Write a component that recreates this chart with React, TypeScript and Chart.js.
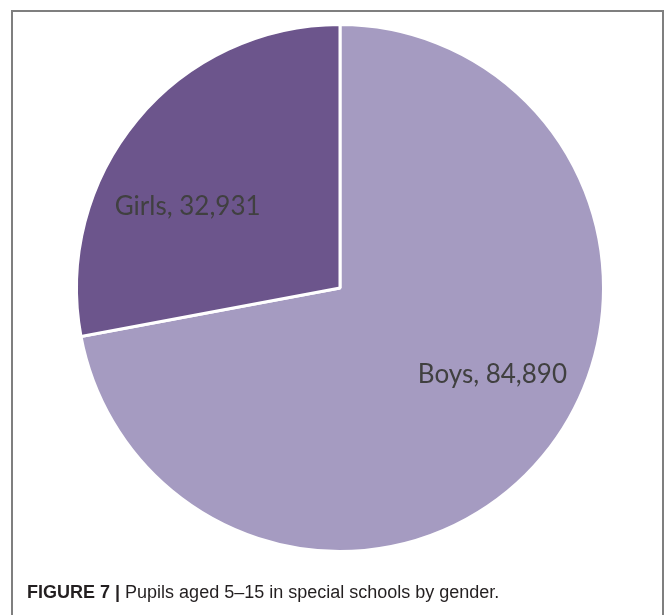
import React, { useEffect, useRef } from "react";
import { Chart, registerables } from "chart.js";

Chart.register(...registerables);

const categories = ["Boys", "Girls"];
const values = [84890, 32931];
const colors = ["#A59BC1", "#6C558C"];
const caption = "Pupils aged 5–15 in special schools by gender.";
const captionLead = "FIGURE 7 |";

const fmt = (n: number) => n.toLocaleString("en-US");

const labelPlugin = {
  id: "sliceLabels",
  afterDatasetsDraw(chart: any) {
    const ctx = chart.ctx;
    const meta = chart.getDatasetMeta(0);
    ctx.save();
    ctx.font = "26px Lato";
    ctx.fillStyle = "#404040";
    ctx.textAlign = "center";
    ctx.textBaseline = "alphabetic";
    meta.data.forEach((arc: any, i: number) => {
      const p = arc.getCenterPoint();
      const dx = p.x - arc.x;
      const x = p.x + (dx >= 0 ? 51 : -51);
      const y = p.y + 11;
      ctx.fillText(`${categories[i]}, ${fmt(values[i])}`, x, y);
    });
    ctx.restore();
  },
};

export default function App() {
  const ref = useRef<HTMLCanvasElement | null>(null);
  useEffect(() => {
    if (!ref.current) return;
    const chart = new Chart(ref.current, {
      type: "pie",
      data: {
        labels: categories,
        datasets: [
          {
            data: values,
            backgroundColor: colors,
            borderColor: "#ffffff",
            borderWidth: 3,
          },
        ],
      },
      options: {
        responsive: false,
        animation: false,
        layout: { padding: { left: 75, top: 23, right: 62, bottom: 62 } },
        plugins: { legend: { display: false }, tooltip: { enabled: false } },
      },
      plugins: [labelPlugin],
    });
    return () => chart.destroy();
  }, []);

  return (
    <div
      style={{
        position: "fixed",
        left: 0,
        top: 0,
        width: 667,
        height: 615,
        overflow: "hidden",
        background: "#fff",
      }}
    >
      <div
        style={{
          position: "absolute",
          left: 11,
          top: 10,
          width: 653,
          height: 700,
          boxSizing: "border-box",
          border: "2px solid #7f7f7f",
        }}
      />
      <canvas
        ref={ref}
        width={667}
        height={615}
        style={{ position: "absolute", left: 0, top: 0, width: 667, height: 615 }}
      />
      <div
        style={{
          position: "absolute",
          left: 27,
          top: 583,
          fontFamily: "'Liberation Sans', Arial, sans-serif",
          fontSize: 18,
          lineHeight: "18px",
          color: "#231f20",
          whiteSpace: "nowrap",
        }}
      >
        <b>{captionLead}</b> {caption}
      </div>
    </div>
  );
}
